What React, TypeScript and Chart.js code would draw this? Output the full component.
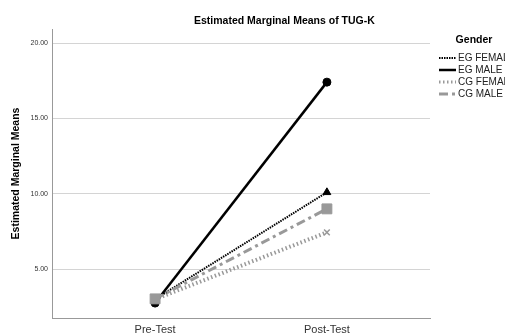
import React, { useEffect, useRef } from "react";
import { Chart, registerables } from "chart.js";

Chart.register(...registerables);

const chartTitle = "Estimated Marginal Means of TUG-K";
const yAxisTitle = "Estimated Marginal Means";
const legendTitle = "Gender";
const categories = ["Pre-Test", "Post-Test"];
const seriesNames = ["EG FEMALE", "EG MALE", "CG FEMALE", "CG MALE"];
const egFemale = [3.0, 10.1];
const egMale = [2.74, 17.42];
const cgFemale = [3.0, 7.44];
const cgMale = [3.02, 9.0];
const yTickValues = [5, 10, 15, 20];
const yTickLabels = ["5.00", "10.00", "15.00", "20.00"];

const BLACK = "#000000";
const GRAY = "#999999";

const overlayPlugin = {
  id: "overlay",
  afterDraw(chart: any) {
    const ctx = chart.ctx;
    ctx.save();
    ctx.fillStyle = "#000";
    ctx.font = "bold 10.5px 'Liberation Sans', Arial, sans-serif";
    ctx.textAlign = "left";
    ctx.textBaseline = "middle";
    ctx.fillText(chartTitle, 194, 21);

    // legend
    ctx.font = "bold 10.5px 'Liberation Sans', Arial, sans-serif";
    ctx.textAlign = "center";
    ctx.fillText(legendTitle, 474, 40);
    ctx.font = "10px 'Liberation Sans', Arial, sans-serif";
    ctx.textAlign = "left";
    const ds = chart.data.datasets;
    for (let i = 0; i < ds.length; i++) {
      const d = ds[i];
      const y = 58 + i * 12;
      ctx.beginPath();
      ctx.strokeStyle = d.borderColor;
      ctx.lineWidth = Math.min(d.borderWidth, 3);
      ctx.setLineDash(d.borderDash || []);
      ctx.moveTo(439, y);
      ctx.lineTo(456, y);
      ctx.stroke();
      ctx.setLineDash([]);
      ctx.fillStyle = "#222";
      ctx.fillText(d.label, 458, y + 0.5);
    }
    ctx.restore();
  },
};

export default function App() {
  const ref = useRef<HTMLCanvasElement>(null);
  useEffect(() => {
    if (!ref.current) return;
    const pts = (arr: number[]) => categories.map((_, i) => ({ x: i, y: arr[i] }));
    const chart = new Chart(ref.current, {
      type: "line",
      data: {
        datasets: [
          {
            label: seriesNames[0],
            data: pts(egFemale),
            borderColor: BLACK,
            backgroundColor: BLACK,
            borderWidth: 2,
            borderDash: [1.5, 1],
            pointStyle: "triangle",
            pointRadius: 4.5,
            pointBorderWidth: 1,
            order: 2,
          },
          {
            label: seriesNames[1],
            data: pts(egMale),
            borderColor: BLACK,
            backgroundColor: BLACK,
            borderWidth: 2.5,
            pointStyle: "circle",
            pointRadius: 4,
            pointBorderWidth: 1,
            order: 1,
          },
          {
            label: seriesNames[2],
            data: pts(cgFemale),
            borderColor: GRAY,
            backgroundColor: GRAY,
            borderWidth: 4,
            borderDash: [1.5, 2.5],
            pointStyle: "crossRot",
            pointRadius: 4,
            pointBorderWidth: 1.5,
            order: 3,
          },
          {
            label: seriesNames[3],
            data: pts(cgMale),
            borderColor: GRAY,
            backgroundColor: GRAY,
            borderWidth: 3,
            borderDash: [9, 4, 3, 4],
            pointStyle: "rect",
            pointRadius: 7,
            pointBorderWidth: 1,
            order: 0,
          },
        ],
      },
      options: {
        animation: false,
        responsive: false,
        layout: { padding: { top: 29, right: 75, left: 0, bottom: 0 } },
        plugins: { legend: { display: false }, title: { display: false }, tooltip: { enabled: false } },
        scales: {
          x: {
            type: "linear",
            min: -0.6,
            max: 1.6,
            afterBuildTicks: (s: any) => {
              s.ticks = categories.map((_, i) => ({ value: i }));
            },
            afterFit: (s: any) => {
              s.height = 16;
            },
            ticks: {
              callback: (v: any) => categories[v as number] ?? "",
              font: { size: 11, family: "'Liberation Sans', Arial, sans-serif" },
              color: "#333",
              padding: 5,
              maxRotation: 0,
            },
            grid: { display: false, drawTicks: false },
            border: { color: "#999", width: 1 },
          },
          y: {
            type: "linear",
            min: 1.75,
            max: 20.95,
            afterBuildTicks: (s: any) => {
              s.ticks = yTickValues.map((v) => ({ value: v }));
            },
            afterFit: (s: any) => {
              s.width = 52;
            },
            ticks: {
              callback: (v: any) => yTickLabels[yTickValues.indexOf(v as number)] ?? "",
              font: { size: 7, family: "'Liberation Sans', Arial, sans-serif" },
              color: "#333",
              padding: 4,
            },
            grid: { color: "#d4d4d4", lineWidth: 1, drawTicks: false },
            border: { color: "#999", width: 1 },
            title: {
              display: true,
              text: yAxisTitle,
              font: { size: 10.5, weight: "bold", family: "'Liberation Sans', Arial, sans-serif" },
              color: "#000",
              padding: { top: 10, bottom: 0 },
            },
          },
        },
      },
      plugins: [overlayPlugin],
    });
    return () => chart.destroy();
  }, []);
  return (
    <div style={{ position: "absolute", left: 0, top: 0, width: 505, height: 334, background: "#fff" }}>
      <canvas ref={ref} width={505} height={334} />
    </div>
  );
}
